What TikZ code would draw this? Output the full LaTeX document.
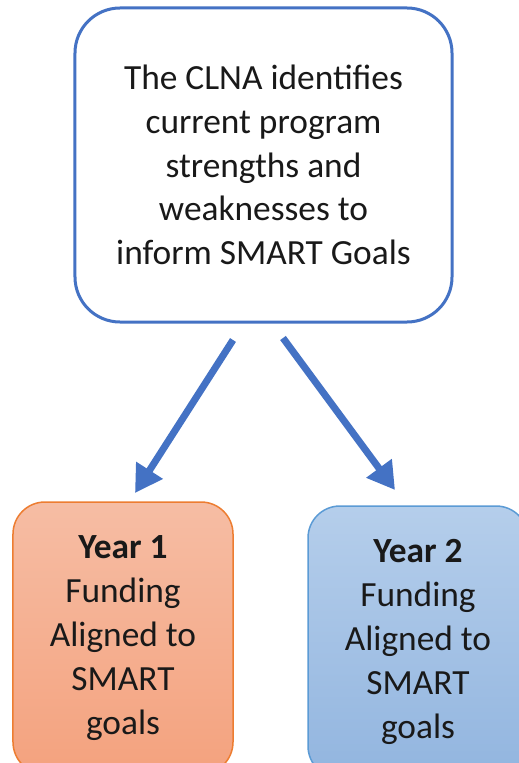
\documentclass[tikz,border=0pt]{standalone}
\usepackage{fontspec}
\setmainfont{Carlito}
\usetikzlibrary{arrows.meta}
\definecolor{topblue}{HTML}{4472C4}
\definecolor{orangeline}{HTML}{ED7D31}
\definecolor{orangetop}{HTML}{F6BDA4}
\definecolor{orangebot}{HTML}{F4A27E}
\definecolor{blueline}{HTML}{5B9BD5}
\definecolor{bluetop}{HTML}{B5CEEB}
\definecolor{bluebot}{HTML}{92B5DF}
\tikzset{
  txt/.style={font=\fontsize{35.5}{44}\selectfont, align=center, text=black!90},
  mainbox/.style={txt, draw=topblue, line width=3bp, rounded corners=45bp, fill=white,
    minimum width=377bp, minimum height=314bp, inner sep=0pt},
  yearbox/.style={txt, line width=1.5bp, rounded corners=32bp,
    minimum width=220bp, minimum height=272bp, inner sep=0pt},
  bigarrow/.style={draw=topblue, line width=7bp, -{Triangle[width=30bp,length=27bp]}}
}
\begin{document}
\begin{tikzpicture}[x=1bp,y=-1bp]
\useasboundingbox (0,0) rectangle (519,763);
\clip (0,0) rectangle (519,763);
\fill[white] (0,0) rectangle (519,763);
\node[mainbox] (clna) at (263.5,165) {The CLNA identifies\\current program\\strengths and\\weaknesses to\\inform SMART Goals};
\node[yearbox, draw=orangeline, top color=orangetop, bottom color=orangebot] (y1) at (123,638)
  {\textbf{Year 1}\\Funding\\Aligned to\\SMART\\goals};
\node[yearbox, draw=blueline, top color=bluetop, bottom color=bluebot] (y2) at (418,642)
  {\textbf{Year 2}\\Funding\\Aligned to\\SMART\\goals};
\coordinate (s1) at (233,340);
\coordinate (e1) at (135,493);
\coordinate (s2) at (283,338);
\coordinate (e2) at (395,490);
\draw[bigarrow] (s1) -- (e1);
\draw[bigarrow] (s2) -- (e2);
\end{tikzpicture}
\end{document}
